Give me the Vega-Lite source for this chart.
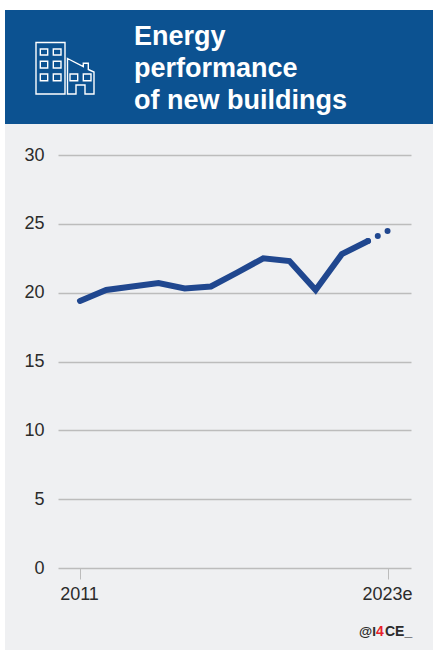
{
  "$schema": "https://vega.github.io/schema/vega-lite/v6.json",
  "width": 353,
  "height": 413,
  "autosize": "none",
  "padding": {"left": 58, "top": 155, "right": 22, "bottom": 82},
  "background": "#eff0f2",
  "config": {
    "view": {"stroke": null},
    "font": "Liberation Sans"
  },
  "datasets": {
    "performance": [
      {"year": 2011, "value": 19.4, "series": "actual"},
      {"year": 2012, "value": 20.2, "series": "actual"},
      {"year": 2013, "value": 20.45, "series": "actual"},
      {"year": 2014, "value": 20.7, "series": "actual"},
      {"year": 2015, "value": 20.3, "series": "actual"},
      {"year": 2016, "value": 20.45, "series": "actual"},
      {"year": 2017, "value": 21.45, "series": "actual"},
      {"year": 2018, "value": 22.5, "series": "actual"},
      {"year": 2019, "value": 22.3, "series": "actual"},
      {"year": 2020, "value": 20.2, "series": "actual"},
      {"year": 2021, "value": 22.8, "series": "actual"},
      {"year": 2022, "value": 23.75, "series": "actual"},
      {"year": 2022, "value": 23.75, "series": "estimate"},
      {"year": 2023, "value": 24.5, "series": "estimate"}
    ],
    "single": [{}]
  },
  "layer": [
    {
      "data": {"name": "performance"},
      "transform": [{"filter": "datum.series === 'actual'"}],
      "mark": {"type": "line", "color": "#20478f", "strokeWidth": 6, "strokeCap": "round", "strokeJoin": "miter", "clip": false},
      "encoding": {
        "x": {
          "field": "year",
          "type": "quantitative",
          "scale": {"domain": [2010.16, 2011, 2022, 2023, 2024.15], "range": [0, 22, 310, 330, 353]},
          "axis": {
            "values": [2011, 2023],
            "title": null,
            "grid": false,
            "domain": false,
            "tickColor": "#bcbcbc",
            "tickSize": 11,
            "tickWidth": 1,
            "labelFontSize": 18,
            "labelColor": "#2b2b2b",
            "labelPadding": 6,
            "labelFlush": false,
            "labelOverlap": false,
            "labelOffset": -1,
            "labelFont": "Liberation Sans",
            "labelExpr": "datum.value === 2023 ? '2023e' : '' + datum.value"
          }
        },
        "y": {
          "field": "value",
          "type": "quantitative",
          "scale": {"domain": [0, 30], "nice": false},
          "axis": {
            "values": [0, 5, 10, 15, 20, 25, 30],
            "title": null,
            "domain": false,
            "ticks": false,
            "grid": true,
            "gridColor": "#bcbcbc",
            "gridWidth": 1.3,
            "labelFontSize": 18,
            "labelColor": "#2b2b2b",
            "labelPadding": 14,
            "labelFont": "Liberation Sans"
          }
        }
      }
    },
    {
      "data": {"name": "performance"},
      "transform": [{"filter": "datum.series === 'estimate'"}],
      "mark": {"type": "line", "color": "#20478f", "strokeWidth": 6, "strokeCap": "round", "strokeDash": [0, 11], "clip": false},
      "encoding": {
        "x": {"field": "year", "type": "quantitative"},
        "y": {"field": "value", "type": "quantitative"}
      }
    },
    {
      "data": {"name": "single"},
      "mark": {"type": "rect", "color": "#ffffff"},
      "encoding": {
        "x": {"value": -58},
        "x2": {"value": 375},
        "y": {"value": -155},
        "y2": {"value": -145}
      }
    },
    {
      "data": {"name": "single"},
      "mark": {"type": "rect", "color": "#ffffff"},
      "encoding": {
        "x": {"value": -58},
        "x2": {"value": -53},
        "y": {"value": -155},
        "y2": {"value": 495}
      }
    },
    {
      "data": {"name": "single"},
      "mark": {"type": "rect", "color": "#0c5291"},
      "encoding": {
        "x": {"value": -53},
        "x2": {"value": 375},
        "y": {"value": -145},
        "y2": {"value": -31}
      }
    },
    {
      "data": {"name": "single"},
      "mark": {
        "type": "point",
        "filled": false,
        "opacity": 1,
        "stroke": "#ffffff",
        "strokeWidth": 1.4,
        "size": 4,
        "shape": "M-29 -25.5H0V26H-29ZM-24.7 -19H-17.3V-13H-24.7ZM-11.7 -19H-4V-13H-11.7ZM-24.7 -6.7H-17.3V0H-24.7ZM-11.7 -6.7H-4V0H-11.7ZM-24.7 6H-17.3V12.7H-24.7ZM-11.7 6H-4V12.7H-11.7ZM2.5 -9.5L18.3 -1.3V-4.7H23.3V1.5L29 4V26H20V17H11V26H2.5ZM5 6H12.7V12.7H5ZM18.3 6H26V12.7H18.3Z"
      },
      "encoding": {
        "x": {"value": 7},
        "y": {"value": -87}
      }
    },
    {
      "data": {"name": "single"},
      "mark": {
        "type": "text",
        "text": ["Energy", "performance", "of new buildings"],
        "align": "left",
        "baseline": "alphabetic",
        "font": "Liberation Sans",
        "fontWeight": "bold",
        "fontSize": 27,
        "lineHeight": 32,
        "color": "#ffffff"
      },
      "encoding": {
        "x": {"value": 76},
        "y": {"value": -110}
      }
    },
    {
      "data": {"name": "single"},
      "mark": {"type": "text", "text": "@I", "align": "left", "baseline": "alphabetic", "font": "Liberation Sans", "fontWeight": "bold", "fontSize": 13.5, "color": "#2b2b2b"},
      "encoding": {"x": {"value": 301}, "y": {"value": 481}}
    },
    {
      "data": {"name": "single"},
      "mark": {"type": "text", "text": "4", "align": "left", "baseline": "alphabetic", "font": "Liberation Sans", "fontWeight": "bold", "fontSize": 14, "color": "#e8202a"},
      "encoding": {"x": {"value": 318}, "y": {"value": 481}}
    },
    {
      "data": {"name": "single"},
      "mark": {"type": "text", "text": "CE_", "align": "left", "baseline": "alphabetic", "font": "Liberation Sans", "fontWeight": "bold", "fontSize": 14, "color": "#2b2b2b"},
      "encoding": {"x": {"value": 327}, "y": {"value": 481}}
    }
  ]
}
